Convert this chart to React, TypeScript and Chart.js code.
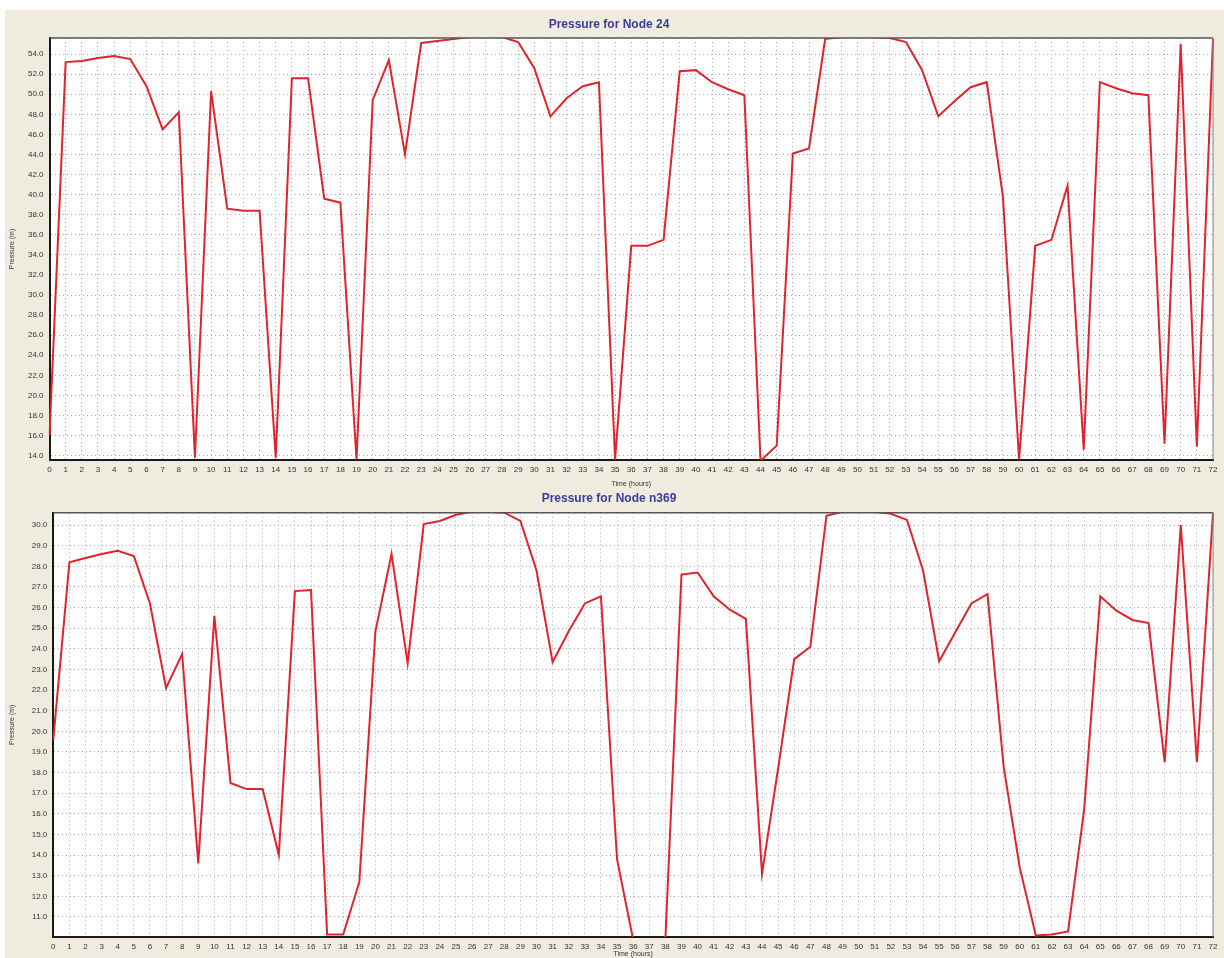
import React, { useEffect, useRef } from 'react';
import { Chart, registerables } from 'chart.js';

Chart.register(...registerables);

// ---------- data ----------
const hours = [
  '0', '1', '2', '3', '4', '5', '6', '7', '8', '9', '10', '11', '12', '13', '14', '15', '16', '17', '18', '19',
  '20', '21', '22', '23', '24', '25', '26', '27', '28', '29', '30', '31', '32', '33', '34', '35', '36', '37', '38', '39',
  '40', '41', '42', '43', '44', '45', '46', '47', '48', '49', '50', '51', '52', '53', '54', '55', '56', '57', '58', '59',
  '60', '61', '62', '63', '64', '65', '66', '67', '68', '69', '70', '71', '72',
];

const node24Pressure = [
  16.0, 53.2, 53.3, 53.6, 53.8, 53.5, 50.8, 46.5, 48.2, 13.8,
  50.3, 38.6, 38.4, 38.4, 13.8, 51.6, 51.6, 39.6, 39.2, 13.6,
  49.4, 53.4, 44.0, 55.1, 55.3, 55.5, 55.7, 55.7, 55.7, 55.2,
  52.6, 47.8, 49.6, 50.8, 51.2, 13.6, 34.9, 34.9, 35.5, 52.3,
  52.4, 51.2, 50.5, 49.9, 13.5, 15.0, 44.1, 44.6, 55.5, 55.7,
  55.7, 55.7, 55.6, 55.2, 52.4, 47.8, 49.3, 50.7, 51.2, 39.8,
  13.6, 34.9, 35.5, 40.9, 14.6, 51.2, 50.6, 50.1, 49.9, 15.2,
  55.0, 14.9, 55.5,
];

const n369Pressure = [
  19.6, 28.2, 28.4, 28.6, 28.75, 28.5, 26.2, 22.1, 23.75, 13.6,
  25.6, 17.5, 17.2, 17.2, 14.0, 26.8, 26.85, 10.15, 10.15, 12.7,
  24.85, 28.6, 23.3, 30.05, 30.2, 30.5, 30.65, 30.65, 30.6, 30.2,
  27.8, 23.35, 24.85, 26.2, 26.55, 13.8, 9.9, 9.9, 9.9, 27.6,
  27.7, 26.55, 25.9, 25.45, 13.1, 18.2, 23.5, 24.1, 30.45, 30.65,
  30.65, 30.65, 30.55, 30.25, 27.8, 23.4, 24.8, 26.2, 26.65, 18.3,
  13.4, 10.1, 10.15, 10.3, 16.2, 26.55, 25.85, 25.4, 25.25, 18.5,
  30.0, 18.5, 30.6,
];

const node24YTicks = [14, 16, 18, 20, 22, 24, 26, 28, 30, 32, 34, 36, 38, 40, 42, 44, 46, 48, 50, 52, 54];
const n369YTicks = [11, 12, 13, 14, 15, 16, 17, 18, 19, 20, 21, 22, 23, 24, 25, 26, 27, 28, 29, 30];

const node24Title = 'Pressure for Node 24';
const n369Title = 'Pressure for Node n369';
const yTitle = 'Pressure (m)';
const xTitle = 'Time (hours)';

// ---------- styling ----------
const BEIGE = '#efecdf';
const FONT = "'Liberation Sans', Arial, sans-serif";
const GRID = '#a4a4b4';

const framePlugin = {
  id: 'frame',
  beforeDraw(chart: any) {
    const { ctx, chartArea, width, height } = chart;
    ctx.save();
    ctx.fillStyle = BEIGE;
    ctx.fillRect(0, 0, width, height);
    ctx.fillStyle = '#ffffff';
    ctx.fillRect(chartArea.left, chartArea.top, chartArea.right - chartArea.left, chartArea.bottom - chartArea.top);
    ctx.restore();
  },
  afterDraw(chart: any) {
    const { ctx, chartArea } = chart;
    ctx.save();
    ctx.strokeStyle = '#555555';
    ctx.lineWidth = 1.5;
    ctx.beginPath();
    ctx.moveTo(chartArea.left, chartArea.top);
    ctx.lineTo(chartArea.right, chartArea.top);
    ctx.stroke();
    ctx.strokeStyle = '#888888';
    ctx.lineWidth = 1;
    ctx.beginPath();
    ctx.moveTo(chartArea.right, chartArea.top);
    ctx.lineTo(chartArea.right, chartArea.bottom);
    ctx.stroke();
    ctx.restore();
  },
};

type Props = {
  left: number;
  top: number;
  width: number;
  height: number;
  title: string;
  values: number[];
  yTicks: number[];
  yMin: number;
  yMax: number;
  yWidth: number;
  xHeight: number;
  titlePadTop: number;
  titlePadBottom: number;
};

function PressureChart(p: Props) {
  const ref = useRef<HTMLCanvasElement | null>(null);
  useEffect(() => {
    if (!ref.current) return;
    const chart = new Chart(ref.current, {
      type: 'line',
      data: {
        labels: hours,
        datasets: [
          {
            data: p.values,
            borderColor: '#e2232b',
            borderWidth: 2,
            pointRadius: 0,
            tension: 0,
            fill: false,
          },
        ],
      },
      options: {
        animation: false,
        responsive: false,
        devicePixelRatio: 1,
        layout: { padding: { left: 0, right: 11, top: 0, bottom: 0 } },
        plugins: {
          legend: { display: false },
          tooltip: { enabled: false },
          title: {
            display: true,
            text: p.title,
            color: '#3d3d99',
            font: { family: FONT, size: 12, weight: 'bold', lineHeight: 1.2 },
            padding: { top: p.titlePadTop, bottom: p.titlePadBottom },
          },
        },
        scales: {
          x: {
            type: 'category',
            offset: false,
            afterFit: (s: any) => {
              s.height = p.xHeight;
            },
            grid: { color: GRID, lineWidth: 1, drawTicks: false },
            border: { display: true, color: '#1a1a1a', width: 2, dash: [1, 3] },
            ticks: {
              autoSkip: false,
              maxRotation: 0,
              minRotation: 0,
              padding: 5,
              color: '#333333',
              font: { family: FONT, size: 8 },
            },
            title: {
              display: true,
              text: xTitle,
              color: '#333333',
              font: { family: FONT, size: 7, lineHeight: 1.2 },
              padding: { top: 0, bottom: 0 },
            },
          },
          y: {
            type: 'linear',
            min: p.yMin,
            max: p.yMax,
            afterFit: (s: any) => {
              s.width = p.yWidth;
            },
            afterBuildTicks: (s: any) => {
              s.ticks = p.yTicks.map((v) => ({ value: v }));
            },
            grid: { color: GRID, lineWidth: 1, drawTicks: false },
            border: { display: true, color: '#1a1a1a', width: 2, dash: [1, 3] },
            ticks: {
              padding: 6,
              color: '#333333',
              font: { family: FONT, size: 8 },
              callback: (v: any) => Number(v).toFixed(1),
            },
            title: {
              display: true,
              text: yTitle,
              color: '#333333',
              font: { family: FONT, size: 7, lineHeight: 1.2 },
              padding: { top: 3, bottom: 0 },
            },
          },
        },
      } as any,
      plugins: [framePlugin],
    });
    return () => chart.destroy();
  }, []);
  return (
    <canvas
      ref={ref}
      width={p.width}
      height={p.height}
      style={{ position: 'absolute', left: p.left, top: p.top, width: p.width, height: p.height, display: 'block' }}
    />
  );
}

export default function App() {
  return (
    <div
      style={{
        position: 'fixed',
        left: 0,
        top: 0,
        width: 1224,
        height: 958,
        background: '#ffffff',
        overflow: 'hidden',
      }}
    >
      <div style={{ position: 'absolute', left: 5, top: 10, width: 1219, height: 948, background: BEIGE }} />
      <PressureChart
        left={5}
        top={10}
        width={1219}
        height={478}
        title={node24Title}
        values={node24Pressure}
        yTicks={node24YTicks}
        yMin={13.57}
        yMax={55.6}
        yWidth={44.5}
        xHeight={28}
        titlePadTop={7}
        titlePadBottom={6.6}
      />
      <PressureChart
        left={5}
        top={488}
        width={1219}
        height={470}
        title={n369Title}
        values={n369Pressure}
        yTicks={n369YTicks}
        yMin={10.03}
        yMax={30.6}
        yWidth={48.3}
        xHeight={21}
        titlePadTop={3.5}
        titlePadBottom={6.8}
      />
    </div>
  );
}
